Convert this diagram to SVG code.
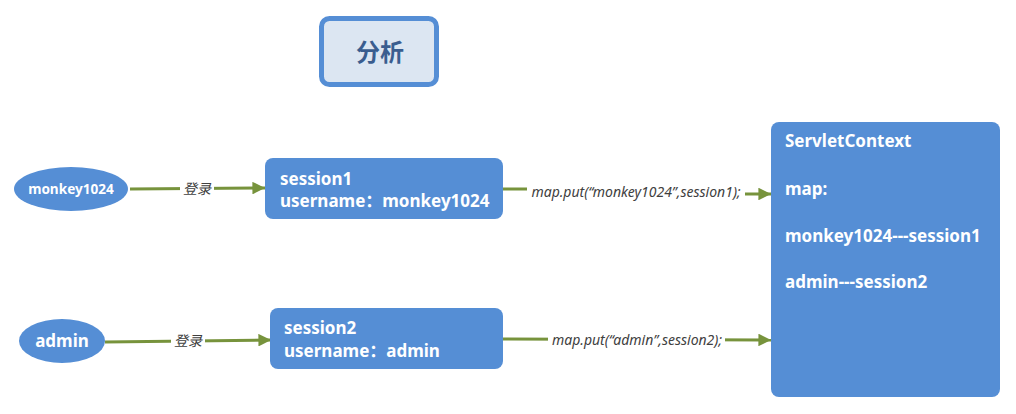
<svg xmlns="http://www.w3.org/2000/svg" width="1016" height="414" viewBox="0 0 1016 414">
<defs>
<marker id="ah" viewBox="0 0 10 10" refX="10" refY="5" markerWidth="4.2" markerHeight="4.2" markerUnits="strokeWidth" orient="auto">
<path d="M0,0 L10,5 L0,10 z" fill="#77933C"/>
</marker>
<style>
.node{fill:#558ED5}
.t{font-family:"Noto Sans","Noto Sans CJK SC",sans-serif;font-weight:bold;fill:#fff}
.c{fill:none;stroke:#77933C;stroke-width:3;marker-end:url(#ah)}
.lbl{font-family:"Noto Sans","Noto Sans CJK SC",sans-serif;font-style:italic;font-size:14px;fill:#404040}
.lb{fill:#fff}
</style>
</defs>
<rect width="1016" height="414" fill="#fff"/>
<g id="title">
<rect x="321.5" y="18.5" width="115" height="66" rx="8" fill="#DCE6F2" stroke="#558ED5" stroke-width="5"/>
<text x="380" y="61" text-anchor="middle" font-family="Noto Sans CJK SC, sans-serif" font-weight="bold" font-size="24" fill="#3A5D8F">分析</text>
</g>
<g id="connectors">
<line class="c" x1="130" y1="189" x2="265" y2="188"/>
<rect class="lb" x="180" y="180" width="34" height="17"/>
<text class="lbl" x="197" y="194" text-anchor="middle">登录</text>
<line class="c" x1="105" y1="342" x2="271" y2="340"/>
<rect class="lb" x="171" y="332" width="34" height="17"/>
<text class="lbl" x="188" y="346" text-anchor="middle">登录</text>
<polyline class="c" points="503,189 636,189 636,194 771,194"/>
<rect class="lb" x="527" y="182" width="218" height="19"/>
<text class="lbl" x="636" y="197" text-anchor="middle">map.put(“monkey1024”,session1);</text>
<line class="c" x1="503" y1="339" x2="771" y2="340"/>
<rect class="lb" x="548" y="330" width="177" height="19"/>
<text class="lbl" x="637" y="344.5" text-anchor="middle">map.put(“admin”,session2);</text>
</g>
<g id="monkey1024">
<ellipse class="node" cx="71" cy="189" rx="57" ry="22"/>
<text class="t" x="71" y="194" text-anchor="middle" font-size="13.6">monkey1024</text>
</g>
<g id="admin">
<ellipse class="node" cx="62" cy="341" rx="43" ry="22"/>
<text class="t" x="62" y="347" text-anchor="middle" font-size="17">admin</text>
</g>
<g id="session1">
<rect class="node" x="265" y="158" width="238" height="61" rx="8"/>
<text class="t" x="280" y="185" font-size="17">session1</text>
<text class="t" x="280" y="207" font-size="17">username：monkey1024</text>
</g>
<g id="session2">
<rect class="node" x="270" y="308" width="233" height="61" rx="8"/>
<text class="t" x="284" y="334" font-size="17">session2</text>
<text class="t" x="284" y="357" font-size="17">username：admin</text>
</g>
<g id="servletcontext">
<rect class="node" x="771" y="122" width="229" height="275" rx="8"/>
<text class="t" x="785" y="147" font-size="17">ServletContext</text>
<text class="t" x="785" y="195" font-size="17">map:</text>
<text class="t" x="785" y="242" font-size="17">monkey1024---session1</text>
<text class="t" x="785" y="288" font-size="17">admin---session2</text>
</g>
</svg>
